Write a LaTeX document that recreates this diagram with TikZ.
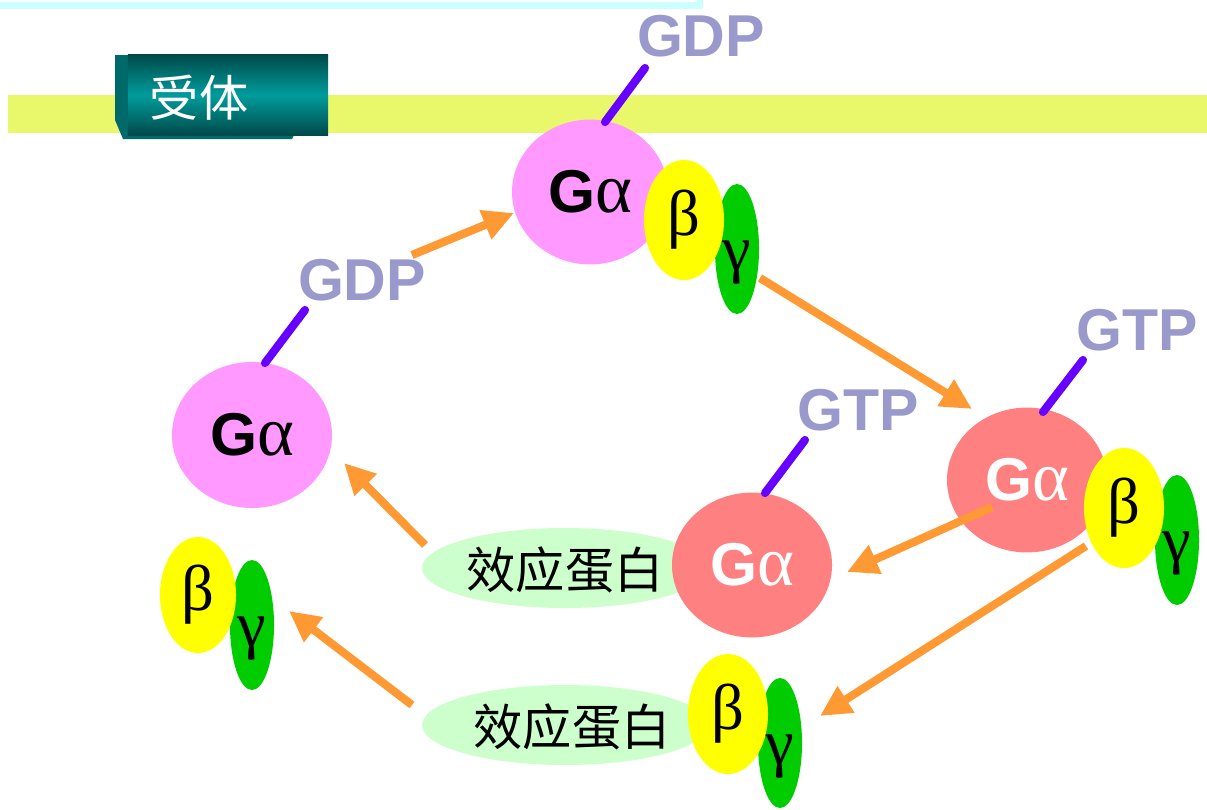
\documentclass[tikz,border=0pt]{standalone}
\usepackage{fontspec}
\setmainfont{Liberation Sans}
\newfontfamily\cjk{Noto Sans CJK SC}
\newfontfamily\greekfont{Liberation Serif}
\usetikzlibrary{arrows.meta,shapes.geometric}

\definecolor{pinkGa}{HTML}{FF99FF}
\definecolor{salmonGa}{HTML}{FF8080}
\definecolor{betaY}{HTML}{FFFF00}
\definecolor{gammaG}{HTML}{00CC00}
\definecolor{effG}{HTML}{CCFFCC}
\definecolor{arrowO}{HTML}{FF9933}
\definecolor{linkP}{HTML}{6600FF}
\definecolor{nucL}{HTML}{9999CC}
\definecolor{membrane}{HTML}{E8F86A}
\definecolor{topline}{HTML}{CCFFFF}
\definecolor{tealD}{HTML}{004A4A}
\definecolor{tealM}{HTML}{009C9C}
\definecolor{tealS}{HTML}{006A6A}

\tikzset{
  blob/.style={ellipse, inner sep=0pt, draw=none},
  galpha/.style={blob, minimum width=4cm, minimum height=3.62cm,
    font=\fontsize{43}{43}\selectfont},
  betasub/.style={blob, fill=betaY, minimum width=2cm, minimum height=3cm,
    font=\greekfont\fontsize{46}{46}\selectfont},
  % gamma glyph sits low in its subunit
  gammasub/.style={blob, fill=gammaG, minimum width=1.1cm, minimum height=3.25cm,
    text height=30pt, text depth=0pt,
    font=\greekfont\fontsize{46}{46}\selectfont},
  effector/.style={blob, fill=effG, minimum width=7.15cm, minimum height=2cm},
  efftext/.style={font=\cjk\fontsize{35}{35}\selectfont, inner sep=0pt},
  nuc/.style={text=nucL, font=\bfseries\fontsize{42}{42}\selectfont, inner sep=0pt},
  link/.style={linkP, line width=5.8pt, line cap=round},
  flow/.style={arrowO, line width=5.8pt,
    -{Triangle[length=22pt,width=21pt]}},
}
\newcommand{\Galpha}{{\bfseries G}{\greekfont\fontsize{50}{50}\selectfont α}}

\begin{document}
\begin{tikzpicture}[x=0.025cm, y=-0.025cm]
\useasboundingbox (0,0) rectangle (1207,809);

% membrane band and top rule
\fill[membrane] (8,95) rectangle (1207,133);
\fill[topline] (0,2) rectangle (703,9);
\fill[topline] (697,0) rectangle (703,9);

% receptor box with its bevel
\fill[tealS] (115,55) -- (128,55) -- (128,135) -- (294,135) -- (292,139)
  -- (123,139) -- (115,120) -- cycle;
\node[minimum width=5cm, minimum height=2cm, inner sep=0pt,
  top color=tealD, bottom color=tealD, middle color=tealM] (recv) at (228,95) {};
\node[text=white, font=\cjk\fontsize{35}{35}\selectfont, inner sep=0pt]
  (recvtext) at (199,98) {受体};

% effector proteins (behind the subunits)
\node[effector] (eff1) at (565,568) {};
\node[effector] (eff2) at (565,725) {};
\node[efftext] (eff1t) at (565,570) {效应蛋白};
\node[efftext] (eff2t) at (572,727) {效应蛋白};

% trimer at the membrane
\node[galpha, fill=pinkGa, minimum width=3.9cm] (gaTop) at (590,192) {\Galpha};
\node[gammasub] (gTop) at (737,249) {γ};
\node[betasub] (bTop) at (684,220) {β};

% free G-alpha with GDP
\node[galpha, fill=pinkGa, minimum height=3.65cm] (gaLeft) at (252,435) {\Galpha};

% free beta-gamma
\node[gammasub] (gLeft) at (252,625) {γ};
\node[betasub, minimum width=1.9cm, minimum height=2.9cm] (bLeft) at (198,595) {β};

% activated trimer
\node[galpha, fill=salmonGa, text=white] (gaRight) at (1027,480) {\Galpha};
\node[gammasub] (gRight) at (1177,540) {γ};
\node[betasub] (bRight) at (1124,508) {β};

% activated G-alpha on effector
\node[galpha, fill=salmonGa, text=white] (gaMid) at (752,565) {\Galpha};

% beta-gamma on effector
\node[gammasub] (gBot) at (780,743) {γ};
\node[betasub] (bBot) at (728,714) {β};

% nucleotide labels and their links
\node[nuc] (gdpTop) at (701,36) {GDP};
\node[nuc] (gdpLeft) at (362,280) {GDP};
\node[nuc] (gtpRight) at (1137,330) {GTP};
\node[nuc] (gtpMid) at (858,410) {GTP};

\coordinate (lTopA) at (645,68);  \coordinate (lTopB) at (605,122);
\coordinate (lLeftA) at (305,310); \coordinate (lLeftB) at (265,363);
\coordinate (lRightA) at (1083,360); \coordinate (lRightB) at (1043,412);
\coordinate (lMidA) at (805,440); \coordinate (lMidB) at (765,493);
\draw[link] (lTopA) -- (lTopB);
\draw[link] (lLeftA) -- (lLeftB);
\draw[link] (lRightA) -- (lRightB);
\draw[link] (lMidA) -- (lMidB);

% cycle arrows
\coordinate (f1s) at (412,255);  \coordinate (f1e) at (514,213);
\coordinate (f2s) at (760,278);  \coordinate (f2e) at (972,409);
\coordinate (f3s) at (992,507);  \coordinate (f3e) at (847,572);
\coordinate (f4s) at (1086,546); \coordinate (f4e) at (820,716);
\coordinate (f5s) at (425,545);  \coordinate (f5e) at (344,463);
\coordinate (f6s) at (412,705);  \coordinate (f6e) at (289,611);
\draw[flow] (f1s) -- (f1e);
\draw[flow] (f2s) -- (f2e);
\draw[flow] (f3s) -- (f3e);
\draw[flow] (f4s) -- (f4e);
\draw[flow] (f5s) -- (f5e);
\draw[flow] (f6s) -- (f6e);
\end{tikzpicture}
\end{document}
